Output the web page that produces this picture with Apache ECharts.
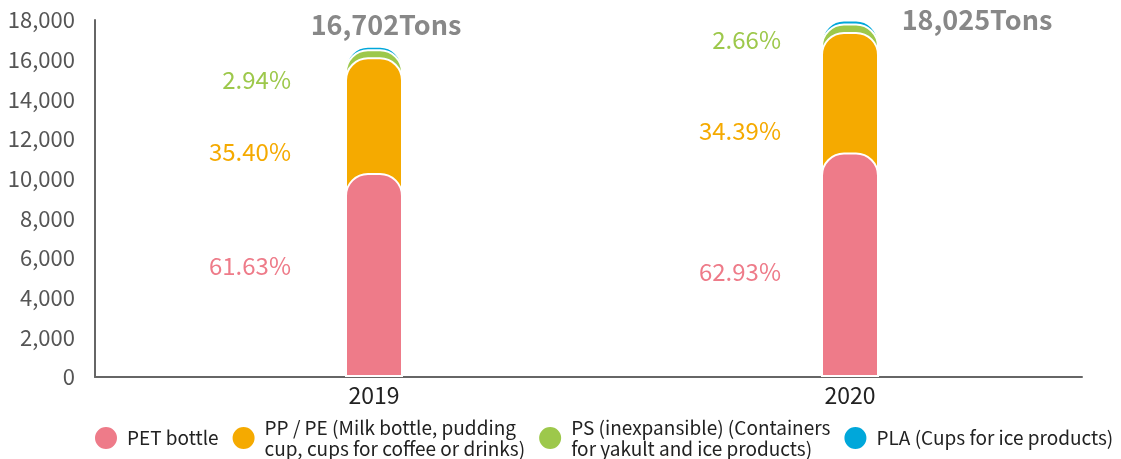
<!DOCTYPE html>
<html>
<head>
<meta charset="utf-8">
<script src="https://cdn.jsdelivr.net/npm/echarts@6/dist/echarts.min.js"></script>
<style>
html,body{margin:0;padding:0;background:#fff;}
#chart{width:1121px;height:459px;}
</style>
</head>
<body>
<div id="chart"></div>
<script>
// ---- data ----
const categories = ['2019', '2020'];
const seriesNames = [
  'PET bottle',
  'PP / PE (Milk bottle, pudding\ncup, cups for coffee or drinks)',
  'PS (inexpansible) (Containers\nfor yakult and ice products)',
  'PLA (Cups for ice products)'
];
const petValues = [10290, 11320];
const ppValues  = [5830, 6080];
const psValues  = [400, 420];
const plaValues = [182, 205];
const petPct = [61.63, 62.93];
const ppPct  = [35.40, 34.39];
const psPct  = [2.94, 2.66];
const yMax = 18000;
const yInterval = 2000;

// ---- styling / layout ----
const colors = ['#EE7B89', '#F5AA00', '#9DC84B', '#00A7DA'];
const FONT = "'Noto Sans CJK JP', 'Noto Sans', sans-serif";
const pctOffsets = [ // per series (PET, PP, PS), per category [dx, dy]
  [[-14, -9], [0, 7]],
  [[-14, -65], [0, -74]],
  [[-14, -133], [0, -160]]
];
const totalOffsets = [[12, -3], [127, 19]];

const valueSets = [petValues, ppValues, psValues, plaValues];
const pctSets = [petPct, ppPct, psPct];
// cumulative heights (bars overlap, drawn back to front)
const cumulative = valueSets.map((_, si) =>
  categories.map((_, ci) => valueSets.slice(0, si + 1).reduce((a, arr) => a + arr[ci], 0)));
const totals = cumulative[3];

const fmt = v => v.toLocaleString('en-US');

const series = [];
for (let si = 3; si >= 0; si--) {
  const data = categories.map((c, ci) => {
    const item = { value: cumulative[si][ci] };
    if (si < 3) {
      item.label = { offset: pctOffsets[si][ci] };
    } else {
      item.label = { offset: totalOffsets[ci] };
    }
    return item;
  });
  const s = {
    name: seriesNames[si],
    type: 'bar',
    xAxisIndex: 1,
    yAxisIndex: 1,
    barWidth: 58,
    barGap: '-100%',
    data: data,
    itemStyle: {
      color: colors[si],
      borderColor: '#ffffff',
      borderWidth: 2,
      borderRadius: [22, 22, 0, 0]
    },
    emphasis: { disabled: true },
    animation: false
  };
  if (si < 3) {
    s.label = {
      show: true,
      position: 'left',
      distance: 40,
      color: colors[si],
      fontFamily: FONT,
      fontSize: 24,
      formatter: p => pctSets[si][p.dataIndex].toFixed(2) + '%'
    };
  } else {
    s.label = {
      show: true,
      position: 'top',
      distance: 5,
      color: '#888888',
      fontFamily: FONT,
      fontWeight: 'bold',
      fontSize: 27,
      formatter: p => fmt(totals[p.dataIndex]) + 'Tons'
    };
  }
  series.push(s);
}

const chart = echarts.init(document.getElementById('chart'), null, { renderer: 'canvas' });
chart.setOption({
  animation: false,
  backgroundColor: '#ffffff',
  textStyle: { fontFamily: FONT },
  grid: [
    { left: 95, right: 39, top: 20, bottom: 82 },
    { left: 136, right: 33, top: 20, bottom: 82 }
  ],
  xAxis: [
    {
      gridIndex: 0, type: 'value', min: 0, max: 1,
      axisLine: { show: true, lineStyle: { color: '#666666', width: 2 } },
      axisTick: { show: false }, axisLabel: { show: false }, splitLine: { show: false }
    },
    {
      gridIndex: 1, type: 'category', data: categories,
      axisLine: { show: false }, axisTick: { show: false }, splitLine: { show: false },
      axisLabel: { color: '#222222', fontSize: 23, fontFamily: FONT, margin: 7 }
    }
  ],
  yAxis: [
    {
      gridIndex: 0, type: 'value', min: 0, max: yMax, interval: yInterval,
      axisLine: { show: true, lineStyle: { color: '#666666', width: 2 } },
      axisTick: { show: false }, splitLine: { show: false },
      axisLabel: { color: '#555555', fontSize: 22, fontFamily: FONT, margin: 20, formatter: v => fmt(v) }
    },
    {
      gridIndex: 1, type: 'value', min: 0, max: yMax, interval: yInterval, show: false
    }
  ],
  legend: {
    data: seriesNames.slice(),
    left: 93,
    top: 417,
    width: 1028,
    padding: 0,
    icon: 'circle',
    itemWidth: 24,
    itemHeight: 24,
    itemGap: 12,
    textStyle: { color: '#222222', fontSize: 19, fontFamily: FONT, lineHeight: 21, padding: [0, 0, 0, 4] },
    selectedMode: false
  },
  series: series
});
</script>
</body>
</html>
